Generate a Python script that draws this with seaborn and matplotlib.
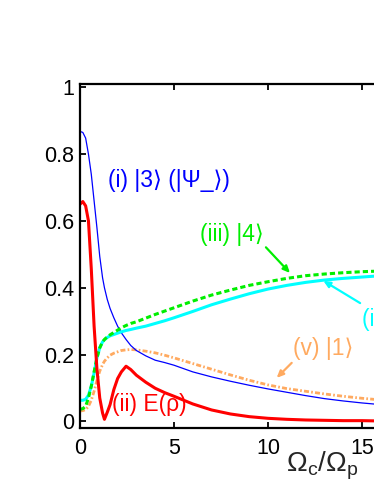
import numpy as np
import pandas as pd
import matplotlib
matplotlib.use("Agg")
import matplotlib.pyplot as plt
import seaborn as sns

# ratio Omega_c / Omega_p
ratio = [0, 0.15, 0.3, 0.45, 0.6, 0.75, 0.9, 1.05, 1.2, 1.3, 1.45, 1.6, 1.8, 2.0, 2.2,
         2.45, 2.7, 3.0, 3.5, 4, 4.5, 5, 6, 7, 8, 9, 10, 11, 12, 13, 14, 15, 16, 18, 20]

pop3 = [0.868, 0.865, 0.848, 0.80, 0.74, 0.66, 0.58, 0.494, 0.43, 0.40, 0.365, 0.338,
        0.31, 0.285, 0.265, 0.245, 0.227, 0.212, 0.196, 0.183, 0.176, 0.168, 0.148,
        0.133, 0.12, 0.108, 0.097, 0.087, 0.077, 0.068, 0.061, 0.055, 0.05, 0.043, 0.037]
ent = [0.650, 0.658, 0.645, 0.60, 0.457, 0.285, 0.157, 0.07, 0.025, 0.006, 0.027, 0.05,
       0.095, 0.128, 0.148, 0.165, 0.155, 0.138, 0.117, 0.099, 0.086, 0.075, 0.052,
       0.034, 0.022, 0.014, 0.009, 0.006, 0.004, 0.003, 0.002, 0.002, 0.001, 0.001, 0.001]
pop4 = [0.036, 0.038, 0.045, 0.07, 0.105, 0.148, 0.19, 0.22, 0.238, 0.245, 0.253, 0.259,
        0.266, 0.273, 0.28, 0.287, 0.293, 0.298, 0.309, 0.32, 0.33, 0.34, 0.36, 0.378,
        0.393, 0.407, 0.418, 0.428, 0.436, 0.441, 0.445, 0.448, 0.45, 0.453, 0.455]
pop2 = [0.063, 0.063, 0.066, 0.078, 0.105, 0.145, 0.19, 0.22, 0.238, 0.244, 0.251, 0.256,
        0.26, 0.264, 0.268, 0.272, 0.275, 0.279, 0.285, 0.293, 0.301, 0.31, 0.329, 0.349,
        0.366, 0.382, 0.396, 0.407, 0.416, 0.423, 0.428, 0.432, 0.436, 0.441, 0.445]
pop1 = [0.031, 0.032, 0.035, 0.045, 0.063, 0.09, 0.122, 0.15, 0.17, 0.18, 0.19, 0.198,
        0.204, 0.208, 0.212, 0.214, 0.215, 0.214, 0.21, 0.205, 0.198, 0.19, 0.173, 0.156,
        0.139, 0.123, 0.109, 0.098, 0.09, 0.082, 0.075, 0.069, 0.064, 0.056, 0.05]

x_ticks = [0, 5, 10, 15, 20]
y_ticks = [0, 0.2, 0.4, 0.6, 0.8, 1]
y_ticklabels = ["0", "0.2", "0.4", "0.6", "0.8", "1"]

df = pd.DataFrame({"r": ratio, "p3": pop3, "E": ent, "p4": pop4, "p2": pop2, "p1": pop1})

sns.set_style("ticks")
plt.rcParams["font.family"] = ["Liberation Sans", "DejaVu Sans"]
plt.rcParams["mathtext.fontset"] = "custom"
plt.rcParams["mathtext.rm"] = "Liberation Sans"
plt.rcParams["mathtext.it"] = "Liberation Sans"

BLUE = "#0000ff"
RED = "#ff0000"
GREEN = "#00ee00"
CYAN = "#00ffff"
ORANGE = "#ffaa60"

fig = plt.figure(figsize=(3.74, 4.84), dpi=100)
ax = fig.add_axes([80 / 374, 56 / 484, 376 / 374, 344 / 484])

sns.lineplot(data=df, x="r", y="p1", ax=ax, color=ORANGE, linewidth=2.0,
             linestyle=(0, (1.8, 0.8, 0.6, 0.8)), sort=False)
sns.lineplot(data=df, x="r", y="p3", ax=ax, color=BLUE, linewidth=0.9, sort=False)
sns.lineplot(data=df, x="r", y="p2", ax=ax, color=CYAN, linewidth=2.2, sort=False)
sns.lineplot(data=df, x="r", y="p4", ax=ax, color=GREEN, linewidth=2.2,
             linestyle=(0, (1.7, 1.0)), sort=False)
sns.lineplot(data=df, x="r", y="E", ax=ax, color=RED, linewidth=2.2, sort=False)

ax.set_xlim(0, 20)
ax.set_ylim(-0.02, 1.01)
ax.set_xticks(x_ticks)
ax.set_yticks(y_ticks)
ax.set_yticklabels(y_ticklabels)
ax.tick_params(direction="in", top=True, right=True, length=4, width=1.3,
               labelsize=15.5, colors="black")
ax.tick_params(axis="x", pad=7)
ax.tick_params(axis="y", pad=4)
for s in ax.spines.values():
    s.set_linewidth(1.6)
    s.set_color("black")

ax.set_ylabel("")
ax.set_xlabel(r"$\mathregular{\Omega_c/\Omega_p}$", fontsize=20)
ax.xaxis.set_label_coords(0.643, -0.064)

fs = 16.5
ax.text(1.49, 0.722, "(i) |3⟩ (|Ψ_⟩)", color=BLUE, fontsize=fs, va="center")
ax.text(1.70, 0.05, "(ii) E(ρ)", color=RED, fontsize=fs, va="center")
ax.text(6.38, 0.558, "(iii) |4⟩", color=GREEN, fontsize=fs, va="center")
ax.text(15.0, 0.304, "(iv) |2⟩", color=CYAN, fontsize=fs, va="center", clip_on=False)
ax.text(11.33, 0.218, "(v) |1⟩", color=ORANGE, fontsize=fs, va="center")

arrow = dict(arrowstyle="-|>,head_length=0.4,head_width=0.18", lw=1.6, shrinkA=0, shrinkB=0)
ax.annotate("", xy=(11.17, 0.444), xytext=(9.89, 0.521), arrowprops=dict(arrow, color=GREEN))
ax.annotate("", xy=(12.94, 0.421), xytext=(14.9, 0.354), arrowprops=dict(arrow, color=CYAN))
ax.annotate("", xy=(10.46, 0.130), xytext=(11.26, 0.175), arrowprops=dict(arrow, color=ORANGE))

fig.savefig("out.png", dpi=100)
